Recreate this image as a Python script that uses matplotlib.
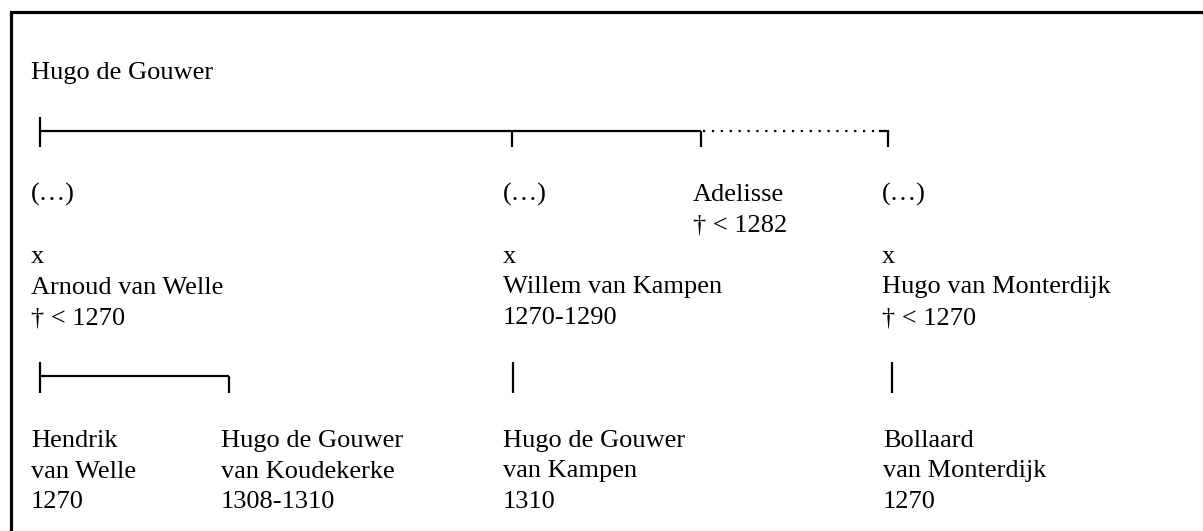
import matplotlib.pyplot as plt

plt.rcParams['font.family'] = ['Liberation Serif', 'DejaVu Serif']

# family data
ancestor = ['Hugo de Gouwer']
children = [
    ['(…)'],
    ['(…)'],
    ['Adelisse', '† < 1282'],
    ['(…)'],
]
spouses = [
    ['x', 'Arnoud van Welle', '† < 1270'],
    ['x', 'Willem van Kampen', '1270-1290'],
    [],
    ['x', 'Hugo van Monterdijk', '† < 1270'],
]
grandchildren = [
    [['Hendrik', 'van Welle', '1270'], ['Hugo de Gouwer', 'van Koudekerke', '1308-1310']],
    [['Hugo de Gouwer', 'van Kampen', '1310']],
    [],
    [['Bollaard', 'van Monterdijk', '1270']],
]
uncertain = [False, False, False, True]

# layout (pixel coordinates)
W, H = 1203, 531
text_x = [31, 503, 693, 882]
branch_x = [40, 512, 701, 888]
gc_text_x = [[31, 221], [503], [], [883]]
gc_branch_x = [[40, 229], [513], [], [892]]
y_ancestor = 79
y_children = 201
y_spouse = 263
y_grandchildren = 447
line_step = 30.5
fs = 19
lw = 1.6


def block(ax, x, y, lines):
    for i, s in enumerate(lines):
        ax.text(x, y + i * line_step, s, fontsize=fs, va='baseline',
                ha='left', color='black')


def fork(ax, xs, y_bar, y_top, y_bot, dotted=None):
    dotted = dotted or [False] * len(xs)
    ax.plot([xs[0], xs[0]], [y_top, y_bot], color='black', lw=lw,
            solid_capstyle='butt')
    if len(xs) == 1:
        return
    for a, b, d in zip(xs[:-1], xs[1:], dotted[1:]):
        if d:
            ax.plot([a + 2, b - 8], [y_bar, y_bar], color='black', lw=lw,
                    linestyle=(0, (1, 3)), dash_capstyle='butt')
            ax.plot([b - 8, b], [y_bar, y_bar], color='black', lw=lw,
                    solid_capstyle='projecting')
        else:
            ax.plot([a, b], [y_bar, y_bar], color='black', lw=lw,
                    solid_capstyle='butt')
    for x in xs[1:]:
        ax.plot([x, x], [y_bar, y_bot], color='black', lw=lw,
                solid_capstyle='butt')


fig = plt.figure(figsize=(W / 100, H / 100), dpi=100)
ax = fig.add_axes([0, 0, 1, 1])
ax.set_xlim(0, W)
ax.set_ylim(H, 0)
ax.axis('off')

# frame: only the top and left edges show in the crop
ax.plot([10.5, 10.5, W + 20], [H + 20, 11.5, 11.5], color='black', lw=2.3,
        solid_joinstyle='miter', solid_capstyle='butt')

block(ax, text_x[0], y_ancestor, ancestor)
fork(ax, branch_x, 131, 117, 147, dotted=uncertain)

for i in range(len(children)):
    block(ax, text_x[i], y_children, children[i])
    if spouses[i]:
        block(ax, text_x[i], y_spouse, spouses[i])
    if grandchildren[i]:
        fork(ax, gc_branch_x[i], 376, 362, 393)
        for gx, g in zip(gc_text_x[i], grandchildren[i]):
            block(ax, gx, y_grandchildren, g)

fig.savefig('out.png', dpi=100)
